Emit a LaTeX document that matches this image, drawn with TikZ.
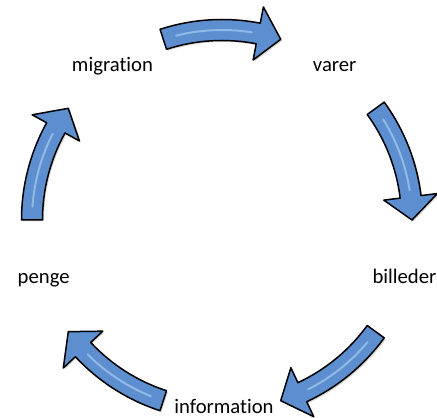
\documentclass[tikz,border=0pt]{standalone}
\usepackage{fontspec}
\setmainfont{Carlito}[Ligatures=NoCommon]
\usetikzlibrary{shadows}
\definecolor{arrowblue}{RGB}{92,142,208}
\definecolor{arrowlight}{RGB}{175,208,242}
\tikzset{
  arrowbody/.style={fill=arrowblue, draw=black, line width=1.5pt, line join=round,
    drop shadow={opacity=0.3, shadow xshift=1.5pt, shadow yshift=-1.5pt}},
  streak/.style={draw=arrowlight, line width=2pt, opacity=0.65, line cap=round},
  lbl/.style={anchor=base, inner sep=0pt, font=\fontsize{20.7}{24}\selectfont}
}
% #1 = middle angle of the arrow
\newcommand\cycarrow[1]{%
  \pgfmathsetmacro\ta{#1+18}%
  \pgfmathsetmacro\tb{#1-18}%
  \pgfmathsetmacro\th{#1-11}%
  \pgfmathsetmacro\ts{#1+14}%
  \pgfmathsetmacro\te{#1-9}%
  \path[arrowbody] (\ta:200.5pt) arc[start angle=\ta, end angle=\th, radius=200.5pt]
    -- (\th:217pt) -- (\tb:190pt) -- (\th:163pt) -- (\th:179.5pt)
    arc[start angle=\th, end angle=\ta, radius=179.5pt] -- cycle;
  \draw[streak] (\ts:190pt) arc[start angle=\ts, end angle=\te, radius=190pt];
}
\begin{document}
\begin{tikzpicture}[x=1pt,y=1pt]
\useasboundingbox (0,0) rectangle (437,418);
\node[lbl] (migration) at (112.5,346.3) {migration};
\node[lbl] (varer) at (334.7,346.3) {varer};
\node[lbl] (billeder) at (404.5,134) {billeder};
\node[lbl] (information) at (224,4.5) {information};
\node[lbl] (penge) at (43.7,134) {penge};
\begin{scope}[shift={(222,198)}]
  \cycarrow{90}
  \cycarrow{18}
  \cycarrow{-54}
  \cycarrow{-126}
  \cycarrow{-198}
\end{scope}
\end{tikzpicture}
\end{document}
